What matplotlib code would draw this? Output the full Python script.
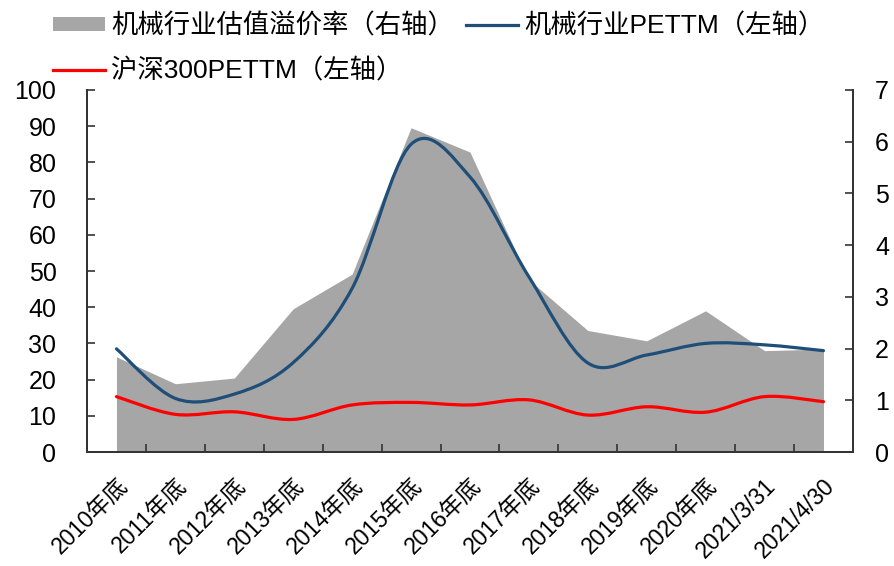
import matplotlib
matplotlib.use('Agg')
import matplotlib.pyplot as plt
import numpy as np
from matplotlib.path import Path
from matplotlib.patches import PathPatch, Patch
from matplotlib.lines import Line2D

plt.rcParams['font.family'] = ['Liberation Sans', 'Noto Sans CJK SC', 'DejaVu Sans']

labels = ['2010年底', '2011年底', '2012年底', '2013年底', '2014年底', '2015年底',
          '2016年底', '2017年底', '2018年底', '2019年底', '2020年底',
          '2021/3/31', '2021/4/30']
premium = [1.84, 1.32, 1.43, 2.77, 3.44, 6.27, 5.80, 3.33, 2.35, 2.15, 2.73, 1.96, 1.99]
mach_pe = [28.5, 14.8, 16.0, 24.7, 45.2, 85.0, 76.0, 48.4, 24.6, 26.8, 30.0, 29.6, 28.0]
hs300_pe = [15.3, 10.4, 11.1, 9.0, 13.0, 13.7, 13.0, 14.4, 10.2, 12.5, 11.0, 15.3, 13.9]

GRAY = '#A6A6A6'
BLUE = '#1F4E79'
RED = '#FF0000'


def smooth_path(xs, ys):
    # excel style smoothed line: cubic bezier, catmull-rom control points
    pts = np.column_stack([xs, ys]).astype(float)
    n = len(pts)
    verts = [pts[0]]
    codes = [Path.MOVETO]
    for i in range(n - 1):
        p0 = pts[i - 1] if i > 0 else pts[i]
        p1 = pts[i]
        p2 = pts[i + 1]
        p3 = pts[i + 2] if i + 2 < n else pts[i + 1]
        c1 = p1 + (p2 - p0) / 6.0
        c2 = p2 - (p3 - p1) / 6.0
        verts += [c1, c2, p2]
        codes += [Path.CURVE4] * 3
    return Path(verts, codes)


fig = plt.figure(figsize=(8.95, 5.66), dpi=100)
ax = fig.add_axes([0.0972, 0.2014, 0.8558, 0.6396])
ax2 = ax.twinx()
ax.set_zorder(ax2.get_zorder() + 1)
ax.patch.set_visible(False)

x = np.arange(len(labels))
ax2.fill_between(x, 0, premium, color=GRAY, linewidth=0)

for vals, col in [(mach_pe, BLUE), (hs300_pe, RED)]:
    ax.add_patch(PathPatch(smooth_path(x, vals), fill=False, edgecolor=col,
                           linewidth=2.3, capstyle='round'))

ax.set_xlim(-0.5, len(labels) - 0.5)
ax.set_ylim(0, 100)
ax.set_yticks(np.arange(0, 101, 10))
ax2.set_ylim(0, 7)
ax2.set_yticks(np.arange(0, 8, 1))

ax.set_xticks(x)
ax.set_xticklabels(labels, rotation=45, ha='right', rotation_mode='anchor', fontsize=16.5)
ax.set_xticks(np.arange(0.5, len(labels) - 1, 1), minor=True)
ax.tick_params(axis='x', which='major', length=0, pad=16)
ax.tick_params(axis='x', which='minor', direction='in', length=6, width=1.2, color='#333333')
ax.tick_params(axis='y', direction='in', length=6, width=1.2, color='#333333', labelsize=18, pad=22)
ax2.tick_params(axis='y', direction='in', length=6, width=1.2, color='#333333', labelsize=18, pad=16)

for a in (ax, ax2):
    a.spines['top'].set_visible(False)
    for s in ('left', 'right', 'bottom'):
        a.spines[s].set_color('#333333')
        a.spines[s].set_linewidth(1.3)

handles = [Patch(facecolor=GRAY, edgecolor='none'),
           Line2D([], [], color=RED, linewidth=2.3),
           Line2D([], [], color=BLUE, linewidth=2.3)]
names = ['机械行业估值溢价率（右轴）', '沪深300PETTM（左轴）', '机械行业PETTM（左轴）']
fig.legend(handles, names, loc='upper left', bbox_to_anchor=(0.042, 1.005), ncol=2,
           frameon=False, fontsize=19, handlelength=1.95, handleheight=0.45,
           handletextpad=0.25, columnspacing=0.45, labelspacing=0.75, borderaxespad=0.2)

fig.savefig('out.png', dpi=100)
